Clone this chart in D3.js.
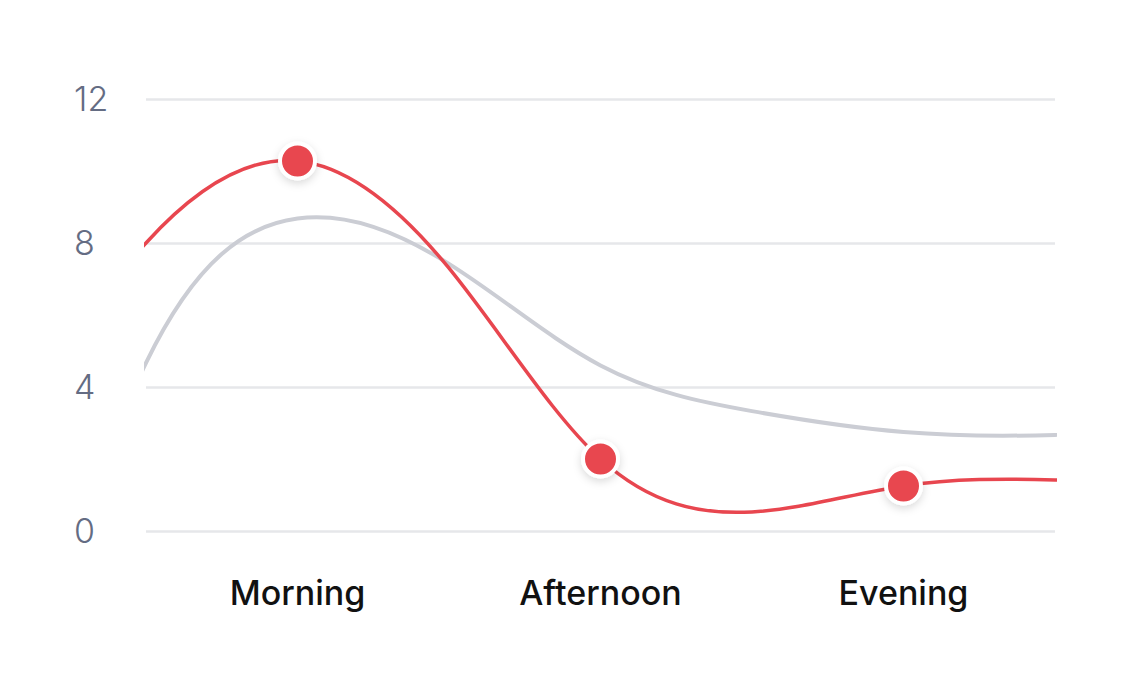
<!DOCTYPE html>
<html>
<head>
<meta charset="utf-8">
<script src="https://cdn.jsdelivr.net/npm/d3@7"></script>
<style>
  html, body { margin: 0; padding: 0; background: #fff; }
  #chart { width: 1126px; height: 693px; }
</style>
</head>
<body>
<div id="chart"></div>
<script>
const categories = ['Morning', 'Afternoon', 'Evening'];
const yTicks = [0, 4, 8, 12];

// evenly spaced samples; first and last sit outside the plot and are clipped
// [outside, edge, Morning, mid, Afternoon, mid, Evening, edge, outside]
const activeValues = [2.0, 8.0, 10.28, 7.3, 2.0, 0.53, 1.25, 1.42, 1.25];
const baseValues = [-8.0, 4.67, 8.68, 7.42, 4.6, 3.33, 2.75, 2.67, 2.9];

const w = 1126;
const h = 693;
const m = { t: 99, r: 71, b: 162, l: 146 };

const svg = d3.select('#chart').append('svg').attr('width', w).attr('height', h);

const defs = svg.append('defs');
const shadow = defs.append('filter').attr('id', 'dotShadow')
  .attr('x', '-50%').attr('y', '-50%').attr('width', '200%').attr('height', '200%');
shadow.append('feDropShadow').attr('dx', 0).attr('dy', 3).attr('stdDeviation', 4)
  .attr('flood-color', '#000').attr('flood-opacity', 0.15);

// plot area spans index 1..7
const x = d3.scaleLinear().domain([1, activeValues.length - 2]).range([m.l, w - m.r]);
const y = d3.scaleLinear().domain([0, 12]).range([h - m.b, m.t]);
const catIndex = (i) => i * 2 + 2;

defs.append('clipPath').attr('id', 'plotClip')
  .append('rect')
  .attr('x', m.l - 2).attr('y', 0)
  .attr('width', w - m.l - m.r + 4).attr('height', h);

// grid
svg.append('g')
  .attr('transform', `translate(${m.l},0)`)
  .call(d3.axisLeft(y).tickValues(yTicks).tickSize(-(w - m.l - m.r)).tickFormat(''))
  .call((g) => g.select('.domain').remove())
  .call((g) => g.selectAll('line').attr('stroke', '#e6e7ea').attr('stroke-width', 2.5));

// y labels
svg.append('g')
  .selectAll('text')
  .data(yTicks)
  .join('text')
  .attr('x', 74)
  .attr('y', (d) => y(d))
  .attr('dy', '0.36em')
  .attr('text-anchor', 'start')
  .attr('font-family', 'Inter, sans-serif')
  .attr('font-weight', 300)
  .attr('font-size', 34)
  .attr('fill', '#646c83')
  .text((d) => d);

// x labels
svg.append('g')
  .selectAll('text')
  .data(categories)
  .join('text')
  .attr('x', (d, i) => x(catIndex(i)))
  .attr('y', 605)
  .attr('text-anchor', 'middle')
  .attr('font-family', 'Inter, sans-serif')
  .attr('font-weight', 500)
  .attr('font-size', 34)
  .attr('fill', '#111')
  .text((d) => d);

const line = d3.line()
  .x((d, i) => x(i))
  .y((d) => y(d))
  .curve(d3.curveNatural);

const lines = svg.append('g').attr('clip-path', 'url(#plotClip)');

lines.append('path')
  .datum(baseValues)
  .attr('fill', 'none')
  .attr('stroke', '#cbcdd4')
  .attr('stroke-width', 4)
  .attr('d', line);

lines.append('path')
  .datum(activeValues)
  .attr('fill', 'none')
  .attr('stroke', '#e8464f')
  .attr('stroke-width', 3.5)
  .attr('d', line);

svg.append('g')
  .selectAll('circle')
  .data(categories)
  .join('circle')
  .attr('cx', (d, i) => x(catIndex(i)))
  .attr('cy', (d, i) => y(activeValues[catIndex(i)]))
  .attr('r', 17.5)
  .attr('fill', '#e8464f')
  .attr('stroke', '#fff')
  .attr('stroke-width', 4)
  .attr('filter', 'url(#dotShadow)');
</script>
</body>
</html>
